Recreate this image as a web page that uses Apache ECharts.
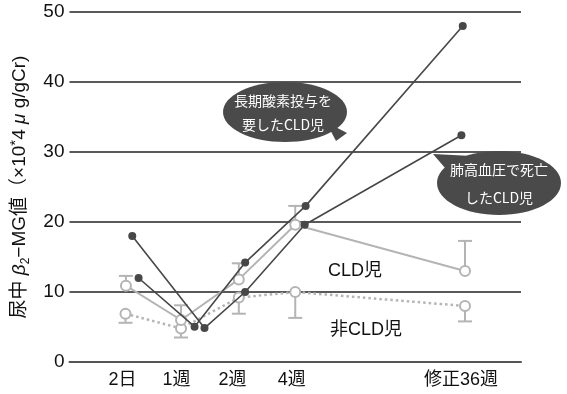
<!DOCTYPE html>
<html>
<head>
<meta charset="utf-8">
<script src="https://cdn.jsdelivr.net/npm/echarts@6/dist/echarts.min.js"></script>
<style>
  html, body { margin: 0; padding: 0; background: #fff; }
  #main { width: 567px; height: 394px; }
</style>
</head>
<body>
<div id="main"></div>
<script>
  // x軸のラベル位置（0-100のスケール上）
  var xTickPos = [11.75, 23.7, 36.1, 49.2, 86.7];
  var xTickLabels = ['2日', '1週', '2週', '4週', '修正36週'];

  // CLD児（平均・誤差上端）
  var cldX = [12.5, 24.7, 37.5, 50.0, 87.6];
  var cldMean = [10.9, 6.0, 11.8, 19.6, 13.0];
  var cldErr = [12.3, 8.1, 14.1, 22.3, 17.3];

  // 非CLD児（平均・誤差下端）
  var nonX = [12.4, 24.7, 37.5, 50.0, 87.6];
  var nonMean = [6.9, 4.8, 9.2, 10.0, 8.0];
  var nonErr = [5.6, 3.5, 6.9, 6.3, 5.8];

  // 長期酸素投与を要したCLD児
  var o2X = [15.3, 27.7, 38.9, 52.3, 87.1];
  var o2Val = [12.0, 5.05, 14.2, 22.3, 48.0];

  // 肺高血圧で死亡したCLD児
  var phX = [13.9, 29.9, 38.9, 52.1, 86.8];
  var phVal = [18.0, 4.85, 10.0, 19.6, 32.4];

  var grayColor = '#b4b4b4';
  var darkColor = '#474747';
  var fontFam = '"Liberation Sans", "Noto Sans CJK JP", sans-serif';

  function pairs(xs, ys) {
    return xs.map(function (x, i) { return [x, ys[i]]; });
  }
  function errData(xs, ms, es) {
    return xs.map(function (x, i) { return [x, ms[i], es[i]]; });
  }
  function renderErr(params, api) {
    var p0 = api.coord([api.value(0), api.value(1)]);
    var p1 = api.coord([api.value(0), api.value(2)]);
    var st = { stroke: grayColor, lineWidth: 2 };
    return {
      type: 'group',
      children: [
        { type: 'line', shape: { x1: p0[0], y1: p0[1], x2: p1[0], y2: p1[1] }, style: st },
        { type: 'line', shape: { x1: p1[0] - 7, y1: p1[1], x2: p1[0] + 7, y2: p1[1] }, style: st }
      ]
    };
  }

  var chart = echarts.init(document.getElementById('main'));
  chart.setOption({
    animation: false,
    backgroundColor: '#fff',
    textStyle: { fontFamily: fontFam },
    grid: { left: 68, right: 46, top: 12, bottom: 32 },
    xAxis: {
      type: 'value',
      min: 0,
      max: 100,
      splitLine: { show: false },
      axisTick: { show: false },
      axisLine: { show: true, lineStyle: { color: '#555', width: 2 } },
      axisLabel: {
        customValues: xTickPos,
        margin: 9,
        color: '#111',
        fontSize: 18,
        fontFamily: fontFam,
        formatter: function (v) {
          for (var i = 0; i < xTickPos.length; i++) {
            if (Math.abs(xTickPos[i] - v) < 0.01) return xTickLabels[i];
          }
          return '';
        }
      }
    },
    yAxis: {
      type: 'value',
      min: 0,
      max: 50,
      interval: 10,
      axisLine: { show: false },
      axisTick: { show: false },
      splitLine: { lineStyle: { color: '#222', width: 1.5 } },
      axisLabel: { margin: 5, color: '#111', fontSize: 19, fontFamily: fontFam },
      name: '{t|尿中 }{i|β}{s|2}{t|−MG値（×10}{u|*}{t|4 }{i|μ}{t| g/gCr)}',
      nameLocation: 'middle',
      nameRotate: 90,
      nameGap: 38,
      nameTextStyle: {
        rich: {
          t: { fontSize: 19, color: '#111', fontFamily: fontFam, lineHeight: 24 },
          i: { fontSize: 19, color: '#111', fontStyle: 'italic', fontFamily: fontFam, lineHeight: 24 },
          s: { fontSize: 12, color: '#111', fontFamily: fontFam, lineHeight: 24, verticalAlign: 'bottom', padding: [8, 0, 0, 0] },
          u: { fontSize: 15, color: '#111', fontFamily: fontFam, lineHeight: 24, padding: [0, 0, 8, 0] }
        }
      }
    },
    series: [
      {
        type: 'custom',
        renderItem: renderErr,
        data: errData(cldX, cldMean, cldErr),
        z: 1
      },
      {
        type: 'custom',
        renderItem: renderErr,
        data: errData(nonX, nonMean, nonErr),
        z: 1
      },
      {
        name: '非CLD児',
        type: 'line',
        data: pairs(nonX, nonMean),
        symbol: 'circle',
        symbolSize: 10,
        lineStyle: { color: grayColor, width: 2.5, type: [2.5, 3] },
        itemStyle: { color: '#fff', borderColor: grayColor, borderWidth: 2 },
        z: 2
      },
      {
        name: 'CLD児',
        type: 'line',
        data: pairs(cldX, cldMean),
        symbol: 'circle',
        symbolSize: 10,
        lineStyle: { color: grayColor, width: 2 },
        itemStyle: { color: '#fff', borderColor: grayColor, borderWidth: 2 },
        z: 2
      },
      {
        name: '長期酸素投与',
        type: 'line',
        data: pairs(o2X, o2Val),
        symbol: 'circle',
        symbolSize: 8,
        lineStyle: { color: darkColor, width: 1.6 },
        itemStyle: { color: darkColor },
        z: 3
      },
      {
        name: '肺高血圧で死亡',
        type: 'line',
        data: pairs(phX, phVal),
        symbol: 'circle',
        symbolSize: 8,
        lineStyle: { color: darkColor, width: 1.6 },
        itemStyle: { color: darkColor },
        z: 3
      }
    ],
    graphic: [
      // 吹き出し1
      { type: 'polygon', shape: { points: [[347, 133], [326, 122], [336, 141]] }, style: { fill: '#4a4a4a' }, z: 10 },
      { type: 'ellipse', shape: { cx: 285, cy: 112, rx: 62, ry: 30 }, style: { fill: '#4a4a4a' }, z: 10 },
      {
        type: 'text', x: 283, y: 113, z: 11,
        style: {
          text: '長期酸素投与を\n要したCLD児', fill: '#fff', fontSize: 14, lineHeight: 24,
          align: 'center', verticalAlign: 'middle', fontFamily: '"Noto Sans CJK JP", sans-serif'
        }
      },
      // 吹き出し2
      { type: 'polygon', shape: { points: [[433, 154], [472, 156], [452, 176]] }, style: { fill: '#4a4a4a' }, z: 10 },
      { type: 'ellipse', shape: { cx: 499, cy: 183, rx: 62, ry: 32 }, style: { fill: '#4a4a4a' }, z: 10 },
      {
        type: 'text', x: 499, y: 184, z: 11,
        style: {
          text: '肺高血圧で死亡\nしたCLD児', fill: '#fff', fontSize: 14, lineHeight: 28,
          align: 'center', verticalAlign: 'middle', fontFamily: '"Noto Sans CJK JP", sans-serif'
        }
      },
      {
        type: 'text', x: 355, y: 271, z: 11,
        style: { text: 'CLD児', fill: '#111', fontSize: 18, align: 'center', verticalAlign: 'middle', fontFamily: fontFam }
      },
      {
        type: 'text', x: 366, y: 330, z: 11,
        style: { text: '非CLD児', fill: '#111', fontSize: 18, align: 'center', verticalAlign: 'middle', fontFamily: fontFam }
      }
    ]
  });
</script>
</body>
</html>
